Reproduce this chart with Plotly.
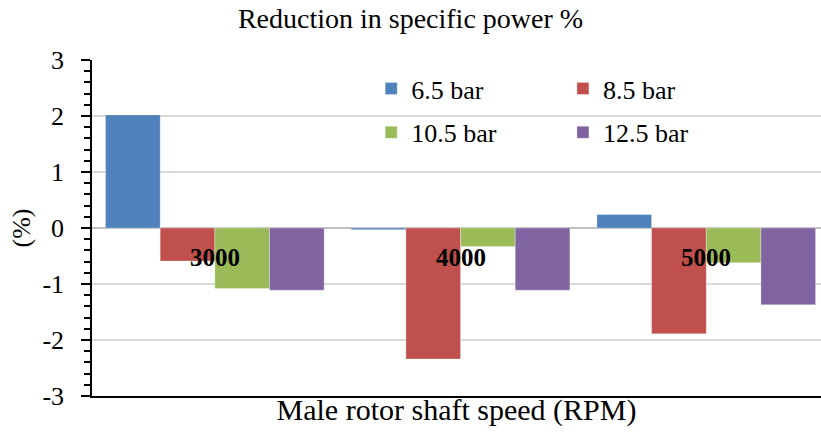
import plotly.graph_objects as go

# -------- Data --------
speeds = ["3000", "4000", "5000"]
series_names = ["6.5 bar", "8.5 bar", "10.5 bar", "12.5 bar"]
bar_65 = [2.02, -0.03, 0.24]
bar_85 = [-0.59, -2.34, -1.89]
bar_105 = [-1.08, -0.33, -0.62]
bar_125 = [-1.11, -1.11, -1.37]

y_ticks = [-3, -2, -1, 0, 1, 2, 3]
y_tick_labels = ["-3", "-2", "-1", "0", "1", "2", "3"]

colors = ["#4F81BD", "#C0504D", "#9BBB59", "#8064A2"]
legend_ids = ["legend", "legend2", "legend", "legend2"]

FONT = "Liberation Serif"

fig = go.Figure()

for i, (name, vals) in enumerate(zip(series_names, [bar_65, bar_85, bar_105, bar_125])):
    fig.add_trace(go.Bar(
        x=speeds,
        y=vals,
        name=name,
        marker=dict(color=colors[i], line=dict(color="rgba(255,255,255,0.6)", width=0.5)),
        legend=legend_ids[i],
        legendgroup=name,
    ))

# category labels sit just under the zero line (category axis -> use index)
for idx, s in enumerate(speeds):
    fig.add_annotation(
        x=idx, y=0, xref="x", yref="y",
        text=f"<b>{s}</b>", showarrow=False,
        yanchor="middle", yshift=-29,
        font=dict(family=FONT, size=25, color="black"),
    )

legend_style = dict(
    orientation="v",
    bgcolor="rgba(0,0,0,0)",
    font=dict(family=FONT, size=26, color="black"),
    tracegroupgap=7,
    xanchor="left", yanchor="top",
    itemwidth=30,
)

fig.update_layout(
    width=821, height=435,
    margin=dict(l=92, r=0, t=60, b=39),
    plot_bgcolor="white",
    paper_bgcolor="white",
    font=dict(family=FONT, color="black"),
    barmode="group",
    bargap=0.11,
    bargroupgap=0,
    title=dict(
        text="Reduction in specific power %",
        x=0.5, xanchor="center", y=0.959, yanchor="middle",
        font=dict(family=FONT, size=28, color="black"),
    ),
    legend=dict(x=0.383, y=0.985, **legend_style),
    legend2=dict(x=0.646, y=0.985, **legend_style),
    xaxis=dict(
        type="category",
        range=[-0.5, 2.467],
        showticklabels=False,
        ticks="",
        showline=True, linecolor="black", linewidth=1.5,
        showgrid=False,
        title=dict(text="Male rotor shaft speed (RPM)", standoff=2,
                   font=dict(family=FONT, size=30, color="black")),
    ),
    yaxis=dict(
        range=[-3, 3],
        tickmode="array", tickvals=y_ticks, ticktext=y_tick_labels,
        ticks="outside", ticklen=9, tickwidth=2, tickcolor="black",
        ticklabelstandoff=12,
        minor=dict(dtick=0.2, ticks="outside", ticklen=6, tickcolor="black", tickwidth=1.5, showgrid=False),
        showline=True, linecolor="black", linewidth=1.5,
        showgrid=True, gridcolor="#D9D9D9", gridwidth=1.5,
        zeroline=True, zerolinecolor="#BFBFBF", zerolinewidth=2,
        tickfont=dict(family=FONT, size=26, color="black"),
        title=dict(text="(%)", standoff=4,
                   font=dict(family=FONT, size=26, color="black")),
    ),
)

fig.write_html("out.html", config={"displayModeBar": False},
               post_script="document.body.style.margin='0';")
